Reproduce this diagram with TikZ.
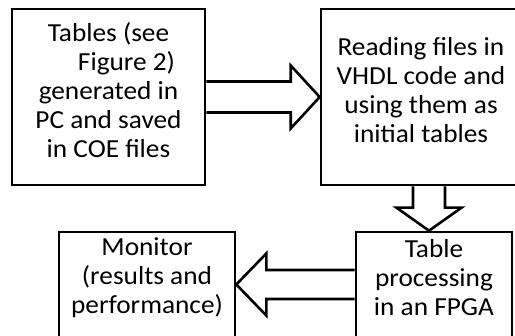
\documentclass[tikz,border=0pt]{standalone}
\usepackage{fontspec}
\setmainfont[FakeStretch=1.05]{Carlito}
\usetikzlibrary{calc}
\tikzset{
  box/.style={draw=black,line width=2.6pt,inner sep=0pt},
  boxtext/.style={align=center,inner sep=0pt,yshift=7pt,
    font=\fontsize{26}{29}\selectfont},
  blockarrow/.style={draw=black,line width=2.6pt,fill=white,line join=miter},
}

\begin{document}
\begin{tikzpicture}[x=1pt,y=-1pt]
  \useasboundingbox (0,0) rectangle (515,336);
  \clip (0,0) rectangle (515,336);
  \node[box,minimum width=193,minimum height=176,
    label={[boxtext]center:Tables (see\\\hspace*{36pt}Figure 2)\\generated in\\PC and saved\\in COE files}]
    (tables) at (108.5,97) {};
  \node[box,minimum width=200,minimum height=176,
    label={[boxtext]center:Reading files in\\VHDL code and\\using them as\\initial tables}]
    (reading) at (421,97) {};
  \node[box,minimum width=156,minimum height=105,
    label={[boxtext]center:Table\\processing\\in an FPGA}]
    (fpga) at (434,284.5) {};
  \node[box,minimum width=176,minimum height=105,
    label={[boxtext]center:Monitor\\(results and\\performance)}]
    (monitor) at (147,284.5) {};
  % tables -> reading
  \draw[blockarrow] ($(tables.east)+(0,-15.5)$) -- ($(reading.west)+(-29,-15.5)$)
    -- ($(reading.west)+(-29,-31.5)$) -- (reading.west) -- ($(reading.west)+(-29,31.5)$)
    -- ($(reading.west)+(-29,15.5)$) -- ($(tables.east)+(0,15.5)$);
  % reading -> fpga
  \coordinate (d1) at ($(reading.south)+(8,0)$);
  \coordinate (d2) at (d1 |- fpga.north);
  \draw[blockarrow] ($(d1)+(-16,0)$) -- ($(d2)+(-16,-23)$) -- ($(d2)+(-32.5,-23)$)
    -- (d2) -- ($(d2)+(32.5,-23)$) -- ($(d2)+(16,-23)$) -- ($(d1)+(16,0)$);
  % fpga -> monitor
  \draw[blockarrow] ($(fpga.west)+(0,-14.5)$) -- ($(monitor.east)+(30,-14.5)$)
    -- ($(monitor.east)+(30,-31)$) -- (monitor.east) -- ($(monitor.east)+(30,31)$)
    -- ($(monitor.east)+(30,14.5)$) -- ($(fpga.west)+(0,14.5)$);
\end{tikzpicture}
\end{document}
